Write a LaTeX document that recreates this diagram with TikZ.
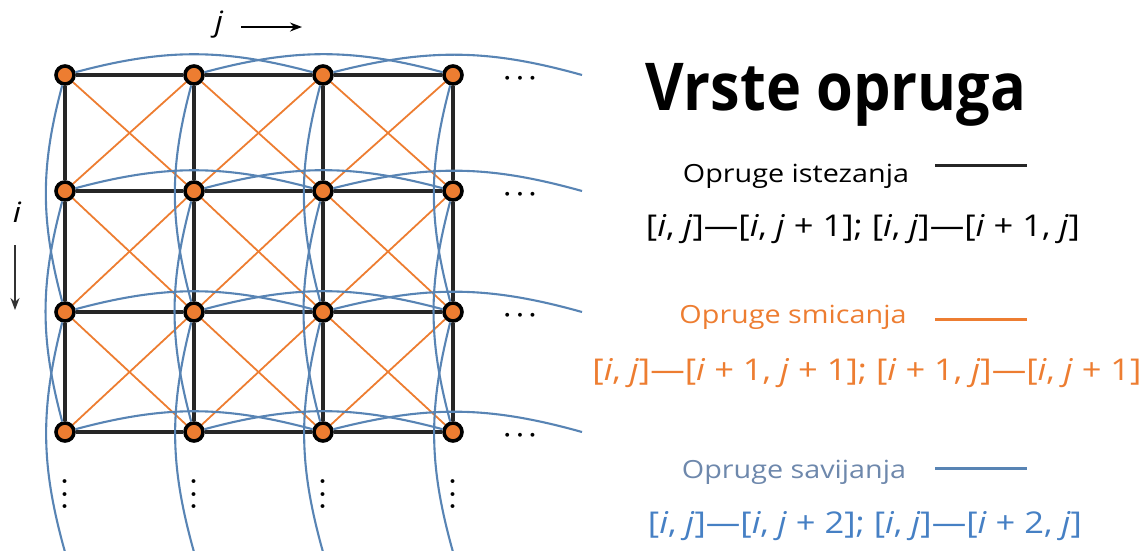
\documentclass[tikz,border=0pt]{standalone}
\usepackage{fontspec}
\usetikzlibrary{arrows.meta}
\setmainfont{Open Sans}
\newfontfamily\legfont[FakeStretch=1.15]{Open Sans}
\newfontfamily\titlefont[FakeStretch=0.9]{Open Sans}
\definecolor{springorange}{RGB}{237,125,49}
\definecolor{springblue}{RGB}{88,132,180}
\definecolor{textblue}{RGB}{70,128,196}
\definecolor{labelblue}{RGB}{110,136,172}

\begin{document}
\begin{tikzpicture}[x=1pt,y=-1pt,>={Stealth[length=12pt,width=9pt]},
  masspt/.style={circle,draw=black,fill=springorange,line width=3.6pt,minimum size=18pt,inner sep=0pt},
  stretchsp/.style={line width=3.4pt,draw=black!85},
  shearsp/.style={line width=1.8pt,draw=springorange},
  bendsp/.style={line width=2.1pt,draw=springblue},
  dotsnode/.style={font=\boldmath\fontsize{32}{32}\selectfont},
  legtext/.style={font=\legfont\fontsize{25}{30}\selectfont,anchor=base},
  formula/.style={font=\legfont\fontsize{30}{36}\selectfont,anchor=base}]
\useasboundingbox (0,0) rectangle (1141,550);

% masses and the points beyond the cut
\foreach \r/\yy in {1/75,2/191,3/312,4/432}{
  \foreach \c/\xx in {1/65,2/194,3/323,4/453}
    \node[masspt] (n-\r-\c) at (\xx,\yy) {};
  \coordinate (n-\r-5) at (582,\yy);
}
\foreach \c/\xx in {1/65,2/194,3/323,4/453}
  \coordinate (n-5-\c) at (\xx,552);

% stretch springs
\foreach \r in {1,...,4}{
  \foreach \c [evaluate=\c as \cn using int(\c+1)] in {1,2,3}{
    \draw[stretchsp] (n-\r-\c) -- (n-\r-\cn);
    \draw[stretchsp] (n-\c-\r) -- (n-\cn-\r);
  }
}

% shear springs
\foreach \r [evaluate=\r as \rn using int(\r+1)] in {1,2,3}{
  \foreach \c [evaluate=\c as \cn using int(\c+1)] in {1,2,3}{
    \draw[shearsp] (n-\r-\c) -- (n-\rn-\cn);
    \draw[shearsp] (n-\rn-\c) -- (n-\r-\cn);
  }
}

% bend springs
\foreach \r in {1,...,4}{
  \foreach \c [evaluate=\c as \cc using int(\c+2)] in {1,2,3}{
    \draw[bendsp] (n-\r-\c) to[bend left=15] (n-\r-\cc);
    \draw[bendsp] (n-\c-\r) to[bend right=15] (n-\cc-\r);
  }
}

% dots
\foreach \r/\yy in {1/75,2/191,3/312,4/432}
  \node[dotsnode] (hdots-\r) at (520,\yy+4) {$\cdots$};
\foreach \c/\xx in {1/65,2/194,3/323,4/453}
  \node[dotsnode,rotate=90] (vdots-\c) at (\xx,494) {$\cdots$};

% index directions
\node[font=\legfont\itshape\fontsize{28}{30}\selectfont] (jlab) at (219,25) {j};
\coordinate (jfrom) at (241,27);
\coordinate (jto) at (302,27);
\draw[->,line width=1.6pt] (jfrom) -- (jto);
\node[font=\legfont\itshape\fontsize{28}{30}\selectfont] (ilab) at (17,212) {i};
\coordinate (ifrom) at (15,245);
\coordinate (ito) at (15,310);
\draw[->,line width=1.6pt,black!80] (ifrom) -- (ito);

% legend
\node[font=\titlefont\bfseries\fontsize{66}{70}\selectfont,anchor=base] (title) at (836,110) {Vrste opruga};

\node[legtext] (stretchlab) at (796,182) {Opruge istezanja};
\draw[line width=3pt,black!85] (935,165) -- (1027,165);
\node[formula] (stretchf) at (863,236) {[\textit{i}, \textit{j}]—[\textit{i}, \textit{j} + 1]; [\textit{i}, \textit{j}]—[\textit{i} + 1, \textit{j}]};

\node[legtext,text=springorange] (shearlab) at (793,323) {Opruge smicanja};
\draw[line width=3pt,springorange] (935,319) -- (1027,319);
\node[formula,text=springorange] (shearf) at (867,380) {[\textit{i}, \textit{j}]—[\textit{i} + 1, \textit{j} + 1]; [\textit{i} + 1, \textit{j}]—[\textit{i}, \textit{j} + 1]};

\node[legtext,text=labelblue] (bendlab) at (794,478) {Opruge savijanja};
\draw[line width=3pt,springblue] (935,468) -- (1027,468);
\node[formula,text=textblue] (bendf) at (865,533) {[\textit{i}, \textit{j}]—[\textit{i}, \textit{j} + 2]; [\textit{i}, \textit{j}]—[\textit{i} + 2, \textit{j}]};
\end{tikzpicture}
\end{document}
